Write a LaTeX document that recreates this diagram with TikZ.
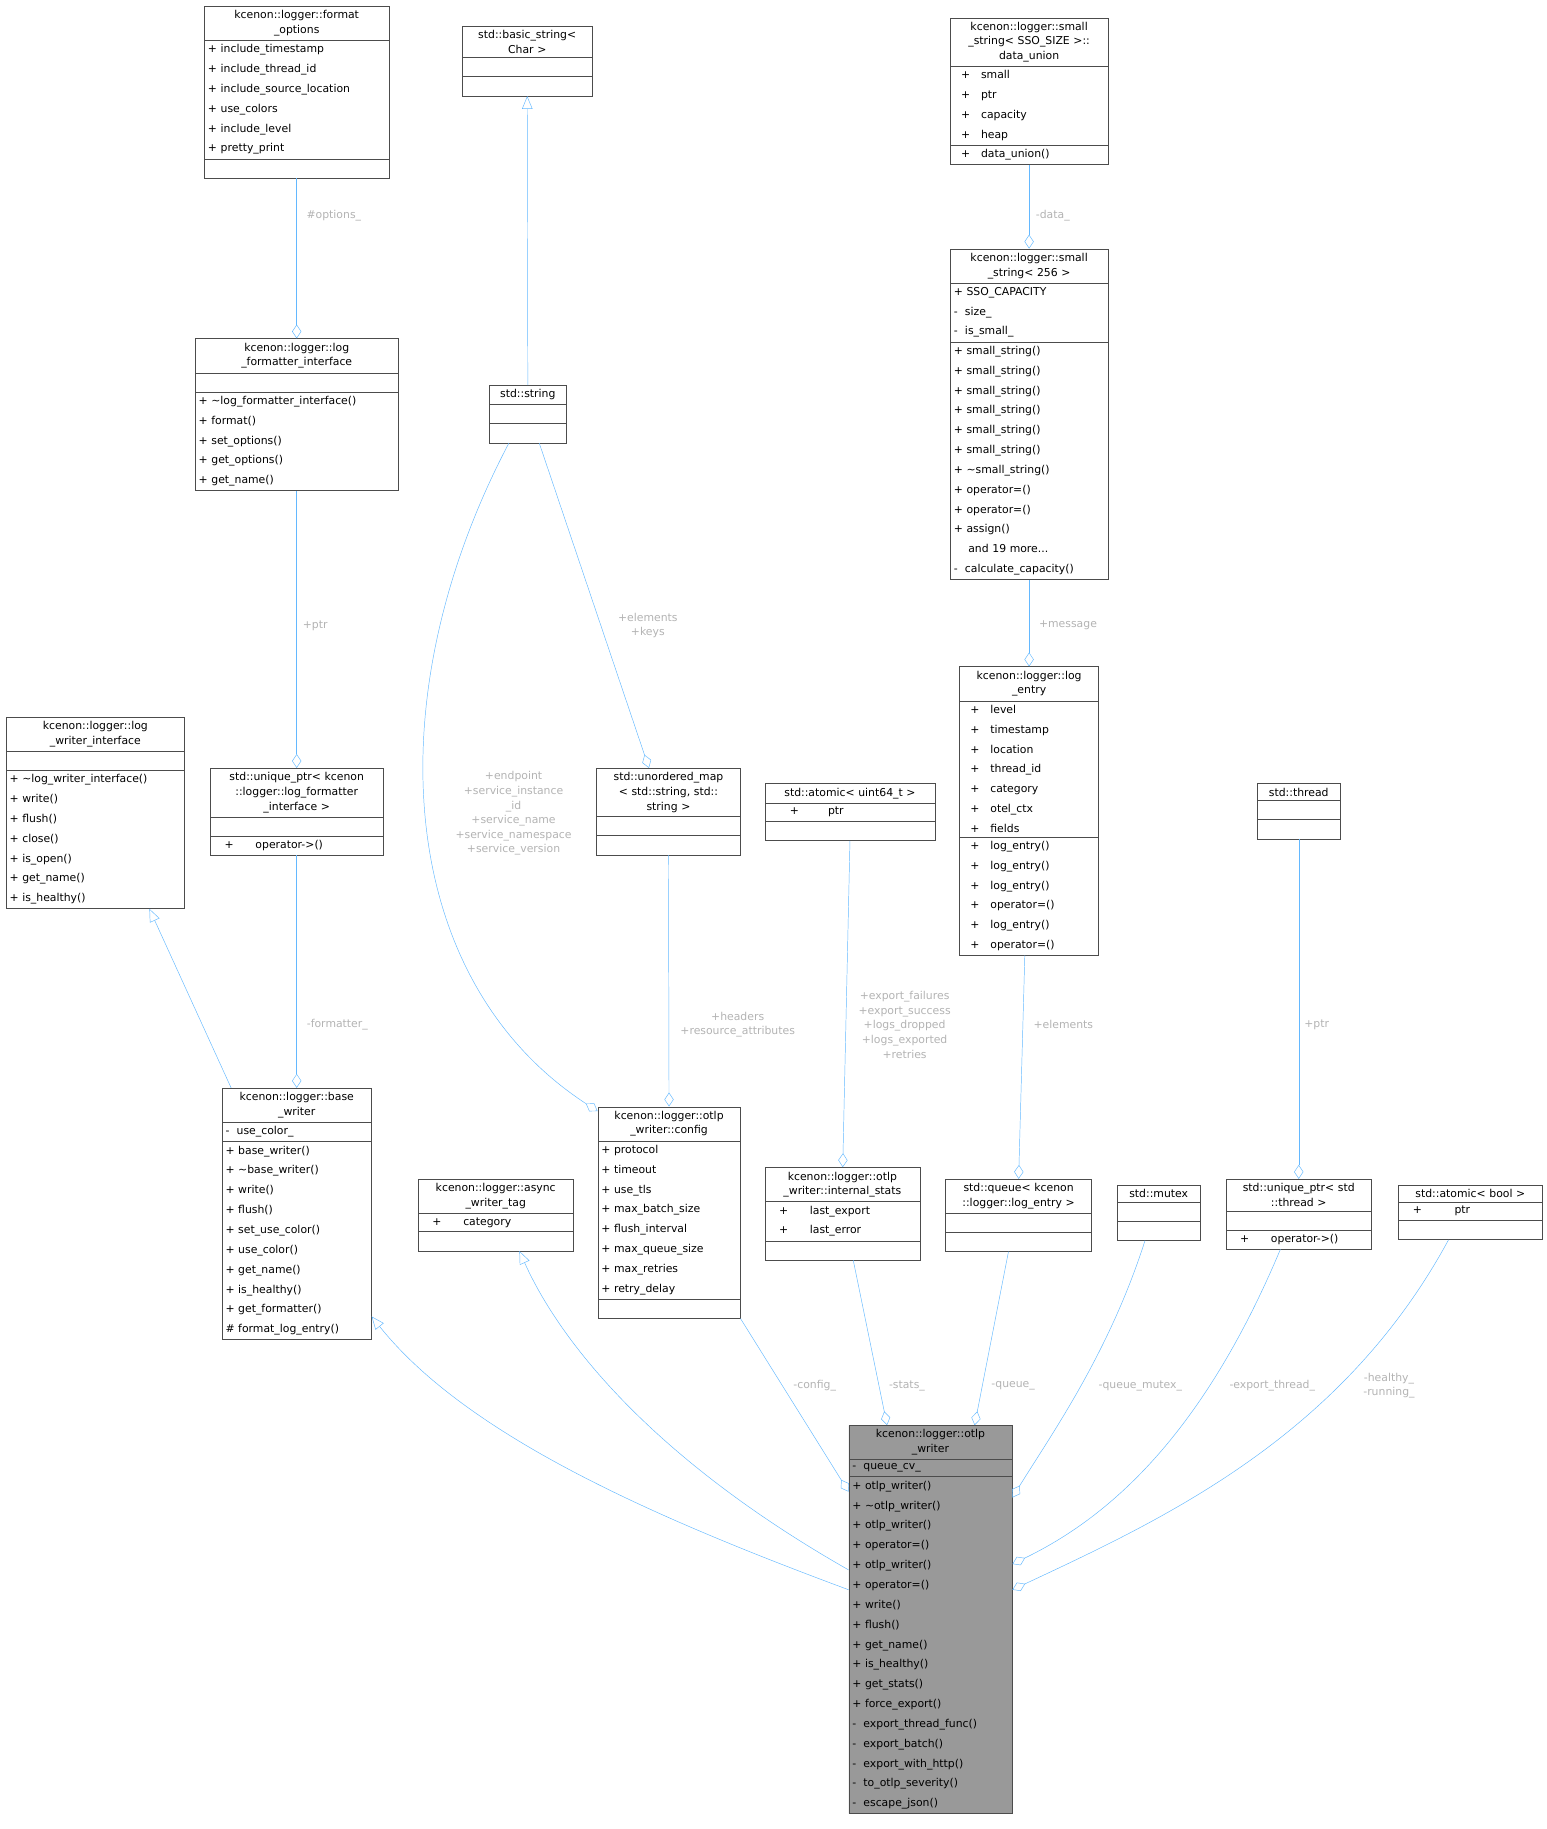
\documentclass[tikz,border=0pt]{standalone}
\usepackage{fontspec}
\setmainfont{DejaVu Sans}
\usetikzlibrary{shapes.multipart,arrows.meta}
\definecolor{edge}{HTML}{63B8FF}
\definecolor{lblgray}{HTML}{B3B3B3}
\definecolor{owfill}{HTML}{999999}
\newcommand*{\ttl}[1]{{\centering\fontsize{9.3}{12.5}\selectfont #1\par}}
\newcommand*{\nil}{\rule{0pt}{9pt}}
\tikzset{
  cls/.style={draw=black!70, rectangle split, rectangle split parts=3,
    anchor=north west, inner xsep=3pt, inner ysep=3.5pt, align=left,
    font=\fontsize{9.3}{17}\selectfont},
  inh/.style={draw=edge, -{Triangle[open,length=11pt,width=9pt]}},
  comp/.style={draw=edge, -{Diamond[open,length=12pt,width=8pt]}},
  lbl/.style={text=lblgray, align=center, inner sep=1pt, font=\fontsize{9.3}{12.5}\selectfont}
}
\begin{document}
\begin{tikzpicture}[x=1pt,y=-1pt]
\useasboundingbox (0,0) rectangle (1325,1567);

% classes
\node[cls, text width=152pt] (fo) at (175,5) {\ttl{kcenon::logger::format\\\_options}
  \nodepart{two}+ include\_timestamp\\+ include\_thread\_id\\+ include\_source\_location\\+ use\_colors\\+ include\_level\\+ pretty\_print
  \nodepart{three}\nil};
\node[cls, text width=105pt] (bs) at (396,22) {\ttl{std::basic\_string\textless\\Char \textgreater}
  \nodepart{two}\nil\nodepart{three}\nil};
\node[cls, text width=129pt] (du) at (814,15) {\ttl{kcenon::logger::small\\\_string\textless{} SSO\_SIZE \textgreater::\\data\_union}
  \nodepart{two}\ \ +\quad small\\\ \ +\quad ptr\\\ \ +\quad capacity\\\ \ +\quad heap
  \nodepart{three}\ \ +\quad data\_union()};
\node[cls, text width=168pt] (lfi) at (167,290) {\ttl{kcenon::logger::log\\\_formatter\_interface}
  \nodepart{two}\nil
  \nodepart{three}+ \textasciitilde log\_formatter\_interface()\\+ format()\\+ set\_options()\\+ get\_options()\\+ get\_name()};
\node[cls, text width=60pt] (str) at (419,330) {\ttl{std::string}
  \nodepart{two}\nil\nodepart{three}\nil};
\node[cls, text width=129pt] (ss) at (814,213) {\ttl{kcenon::logger::small\\\_string\textless{} 256 \textgreater}
  \nodepart{two}+ SSO\_CAPACITY\\-\ \ size\_\\-\ \ is\_small\_
  \nodepart{three}+ small\_string()\\+ small\_string()\\+ small\_string()\\+ small\_string()\\+ small\_string()\\+ small\_string()\\+ \textasciitilde small\_string()\\+ operator=()\\+ operator=()\\+ assign()\\\ \ \ \ and 19 more...\\-\ \ calculate\_capacity()};
\node[cls, text width=147pt] (lwi) at (5,614) {\ttl{kcenon::logger::log\\\_writer\_interface}
  \nodepart{two}\nil
  \nodepart{three}+ \textasciitilde log\_writer\_interface()\\+ write()\\+ flush()\\+ close()\\+ is\_open()\\+ get\_name()\\+ is\_healthy()};
\node[cls, text width=142pt] (up) at (180,658) {\ttl{std::unique\_ptr\textless{} kcenon\\::logger::log\_formatter\\\_interface \textgreater}
  \nodepart{two}\nil
  \nodepart{three}\ \ \ +\qquad operator-\textgreater()};
\node[cls, text width=117pt] (um) at (511,658) {\ttl{std::unordered\_map\\\textless{} std::string, std::\\string \textgreater}
  \nodepart{two}\nil\nodepart{three}\nil};
\node[cls, text width=140pt] (au) at (655,671) {\ttl{std::atomic\textless{} uint64\_t \textgreater}
  \nodepart{two}\qquad+\qquad\ \ ptr
  \nodepart{three}\nil};
\node[cls, text width=113pt] (le) at (822,571) {\ttl{kcenon::logger::log\\\_entry}
  \nodepart{two}\ \ +\quad level\\\ \ +\quad timestamp\\\ \ +\quad location\\\ \ +\quad thread\_id\\\ \ +\quad category\\\ \ +\quad otel\_ctx\\\ \ +\quad fields
  \nodepart{three}\ \ +\quad log\_entry()\\\ \ +\quad log\_entry()\\\ \ +\quad log\_entry()\\\ \ +\quad operator=()\\\ \ +\quad log\_entry()\\\ \ +\quad operator=()};
\node[cls, text width=65pt] (th) at (1077,671) {\ttl{std::thread}
  \nodepart{two}\nil\nodepart{three}\nil};
\node[cls, text width=122pt] (bw) at (190,932) {\ttl{kcenon::logger::base\\\_writer}
  \nodepart{two}-\ \ use\_color\_
  \nodepart{three}+ base\_writer()\\+ \textasciitilde base\_writer()\\+ write()\\+ flush()\\+ set\_use\_color()\\+ use\_color()\\+ get\_name()\\+ is\_healthy()\\+ get\_formatter()\\\# format\_log\_entry()};
\node[cls, text width=127pt] (at) at (358,1010) {\ttl{kcenon::logger::async\\\_writer\_tag}
  \nodepart{two}\ \ \ +\qquad category
  \nodepart{three}\nil};
\node[cls, text width=116pt] (cfg) at (512,948) {\ttl{kcenon::logger::otlp\\\_writer::config}
  \nodepart{two}+ protocol\\+ timeout\\+ use\_tls\\+ max\_batch\_size\\+ flush\_interval\\+ max\_queue\_size\\+ max\_retries\\+ retry\_delay
  \nodepart{three}\nil};
\node[cls, text width=127pt] (st) at (655,1000) {\ttl{kcenon::logger::otlp\\\_writer::internal\_stats}
  \nodepart{two}\ \ \ +\qquad last\_export\\\ \ \ +\qquad last\_error
  \nodepart{three}\nil};
\node[cls, text width=119pt] (qu) at (810,1010) {\ttl{std::queue\textless{} kcenon\\::logger::log\_entry \textgreater}
  \nodepart{two}\nil\nodepart{three}\nil};
\node[cls, text width=65pt] (mx) at (957,1015) {\ttl{std::mutex}
  \nodepart{two}\nil\nodepart{three}\nil};
\node[cls, text width=119pt] (ut) at (1050,1010) {\ttl{std::unique\_ptr\textless{} std\\::thread \textgreater}
  \nodepart{two}\nil
  \nodepart{three}\ \ \ +\qquad operator-\textgreater()};
\node[cls, text width=117pt] (ab) at (1198,1015) {\ttl{std::atomic\textless{} bool \textgreater}
  \nodepart{two}\ \ \ +\qquad\ \ \ ptr
  \nodepart{three}\nil};
\node[cls, text width=134pt, fill=owfill] (ow) at (727,1221) {\ttl{kcenon::logger::otlp\\\_writer}
  \nodepart{two}-\ \ queue\_cv\_
  \nodepart{three}+ otlp\_writer()\\+ \textasciitilde otlp\_writer()\\+ otlp\_writer()\\+ operator=()\\+ otlp\_writer()\\+ operator=()\\+ write()\\+ flush()\\+ get\_name()\\+ is\_healthy()\\+ get\_stats()\\+ force\_export()\\-\ \ export\_thread\_func()\\-\ \ export\_batch()\\-\ \ export\_with\_http()\\-\ \ to\_otlp\_severity()\\-\ \ escape\_json()};

% inheritance
\draw[inh] (str.north) -- (bs.south);
\draw[inh] ([xshift=8pt]bw.north west) -- ([xshift=123pt]lwi.south west);
\draw[inh] ([yshift=-141pt]ow.north west) .. controls (560,1300) and (400,1230) .. ([yshift=20pt]bw.south east);
\draw[inh] ([yshift=-124pt]ow.north west) .. controls (560,1250) and (480,1150) .. ([xshift=87pt]at.south west);

% members
\draw[comp] (fo.south) -- (lfi.north);
\draw[comp] (lfi.south) -- (up.north);
\draw[comp] (up.south) -- (bw.north);
\draw[comp] ([xshift=43pt]str.south west) -- ([xshift=45pt]um.north west);
\draw[comp] ([xshift=17pt]str.south west) .. controls (320,600) and (340,840) .. ([yshift=-4pt]cfg.north west);
\draw[comp] (um.south) -- (cfg.north);
\draw[comp] (au.south) -- ([xshift=67pt]st.north west);
\draw[comp] (du.south) -- (ss.north);
\draw[comp] (ss.south) -- (le.north);
\draw[comp] ([xshift=56pt]le.south west) -- (qu.north);
\draw[comp] (th.south) -- (ut.north);
\draw[comp] (cfg.south east) -- ([yshift=-57pt]ow.north west);
\draw[comp] ([xshift=76pt]st.south west) -- ([xshift=33pt]ow.north west);
\draw[comp] ([xshift=54pt]qu.south west) -- ([xshift=108pt]ow.north west);
\draw[comp] ([xshift=24pt]mx.south west) .. controls (950,1160) and (900,1230) .. ([yshift=-62pt]ow.north east);
\draw[comp] ([xshift=47pt]ut.south west) .. controls (1030,1230) and (950,1300) .. ([yshift=-119pt]ow.north east);
\draw[comp] ([xshift=43pt]ab.south west) .. controls (1150,1230) and (1000,1300) .. ([yshift=-141pt]ow.north east);

% labels
\node[lbl] (l-opt) at (286,185) {\#options\_};
\node[lbl] (l-ptr) at (270,536) {+ptr};
\node[lbl] (l-fmt) at (289,878) {-formatter\_};
\node[lbl] (l-elk) at (555,536) {+elements\\+keys};
\node[lbl] (l-ept) at (440,697) {+endpoint\\+service\_instance\\\_id\\+service\_name\\+service\_namespace\\+service\_version};
\node[lbl] (l-hdr) at (632,878) {+headers\\+resource\_attributes};
\node[lbl] (l-exp) at (775,878) {+export\_failures\\+export\_success\\+logs\_dropped\\+logs\_exported\\+retries};
\node[lbl] (l-dat) at (902,185) {-data\_};
\node[lbl] (l-msg) at (915,536) {+message};
\node[lbl] (l-ele) at (911,878) {+elements};
\node[lbl] (l-tpt) at (1128,878) {+ptr};
\node[lbl] (l-cfg) at (698,1187) {-config\_};
\node[lbl] (l-sta) at (777,1187) {-stats\_};
\node[lbl] (l-que) at (868,1187) {-queue\_};
\node[lbl] (l-mtx) at (977,1187) {-queue\_mutex\_};
\node[lbl] (l-thr) at (1090,1187) {-export\_thread\_};
\node[lbl] (l-hlt) at (1190,1187) {-healthy\_\\-running\_};
\end{tikzpicture}
\end{document}
